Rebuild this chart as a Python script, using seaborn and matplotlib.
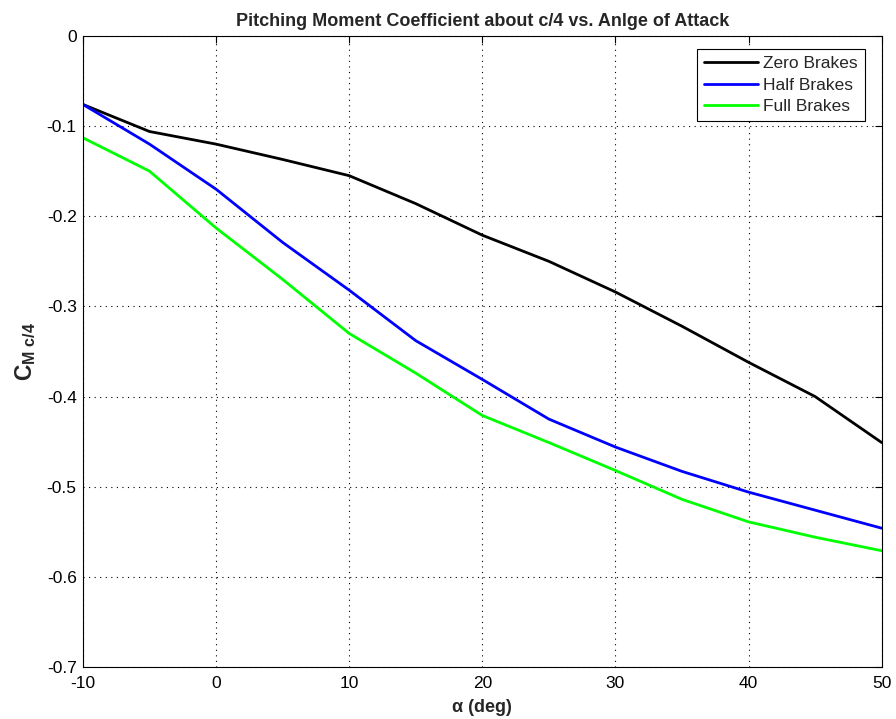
import matplotlib
matplotlib.use("Agg")
import matplotlib.pyplot as plt
import seaborn as sns
import pandas as pd

alpha_deg = [-10, -5, 0, 5, 10, 15, 20, 25, 30, 35, 40, 45, 50]
zero_brakes = [-0.076, -0.106, -0.120, -0.137, -0.155, -0.186, -0.221, -0.250, -0.284, -0.322, -0.362, -0.400, -0.451]
half_brakes = [-0.076, -0.120, -0.170, -0.229, -0.282, -0.338, -0.381, -0.425, -0.456, -0.483, -0.506, -0.526, -0.546]
full_brakes = [-0.113, -0.150, -0.213, -0.270, -0.330, -0.374, -0.421, -0.451, -0.482, -0.514, -0.539, -0.556, -0.571]
series_names = ["Zero Brakes", "Half Brakes", "Full Brakes"]
colors = ["#000000", "#0000ff", "#00ff00"]

x_ticks = [-10, 0, 10, 20, 30, 40, 50]
y_ticks = [0, -0.1, -0.2, -0.3, -0.4, -0.5, -0.6, -0.7]

rows = []
for name, vals in zip(series_names, [zero_brakes, half_brakes, full_brakes]):
    for a, v in zip(alpha_deg, vals):
        rows.append({"alpha": a, "cm": v, "series": name})
df = pd.DataFrame(rows)

sns.set_theme(style="white")
plt.rcParams["font.family"] = ["Liberation Sans", "DejaVu Sans"]
plt.rcParams["mathtext.fontset"] = "custom"
plt.rcParams["mathtext.rm"] = "Liberation Sans:weight=bold"
plt.rcParams["mathtext.it"] = "Liberation Sans:weight=bold"
plt.rcParams["mathtext.bf"] = "Liberation Sans:weight=bold"

fig = plt.figure(figsize=(8.96, 7.19), dpi=100)
ax = fig.add_axes([0.0926, 0.0723, 0.8914, 0.8777])

sns.lineplot(data=df, x="alpha", y="cm", hue="series", hue_order=series_names,
             palette=colors, linewidth=2.0, ax=ax, sort=False)

ax.set_xlim(-10, 50)
ax.set_ylim(-0.7, 0)
ax.set_xticks(x_ticks)
ax.set_xticklabels([str(t) for t in x_ticks])
ax.set_yticks(y_ticks)
ax.set_yticklabels(["0" if t == 0 else f"{t:g}" for t in y_ticks])
ax.tick_params(direction="in", top=True, right=True, length=5, width=0.8,
               labelsize=12.5, colors="black")
ax.tick_params(axis="x", pad=6.5)
ax.tick_params(axis="y", pad=4.5)
for s in ax.spines.values():
    s.set_color("black")
    s.set_linewidth(0.8)
ax.grid(True, linestyle=(0, (1, 4)), color="black", linewidth=0.8)

ax.set_xlabel(r"α (deg)", fontsize=13, fontweight="bold", labelpad=6)
ax.set_ylabel(r"$\mathbf{C}_{\mathbf{M\ c/4}}$", fontsize=16.5, labelpad=6)
ax.set_title("Pitching Moment Coefficient about c/4 vs. Anlge of Attack",
             fontsize=13, fontweight="bold", pad=7)

leg = ax.legend(loc="upper right", bbox_to_anchor=(0.979, 0.979), borderaxespad=0,
                fontsize=12.5, frameon=True, fancybox=False,
                edgecolor="black", framealpha=1,
                handlelength=3.1, handletextpad=0.3, labelspacing=0.36, borderpad=0.4)
leg.get_frame().set_linewidth(0.8)
leg.set_title(None)

fig.savefig("out.png", dpi=100, facecolor="white")
